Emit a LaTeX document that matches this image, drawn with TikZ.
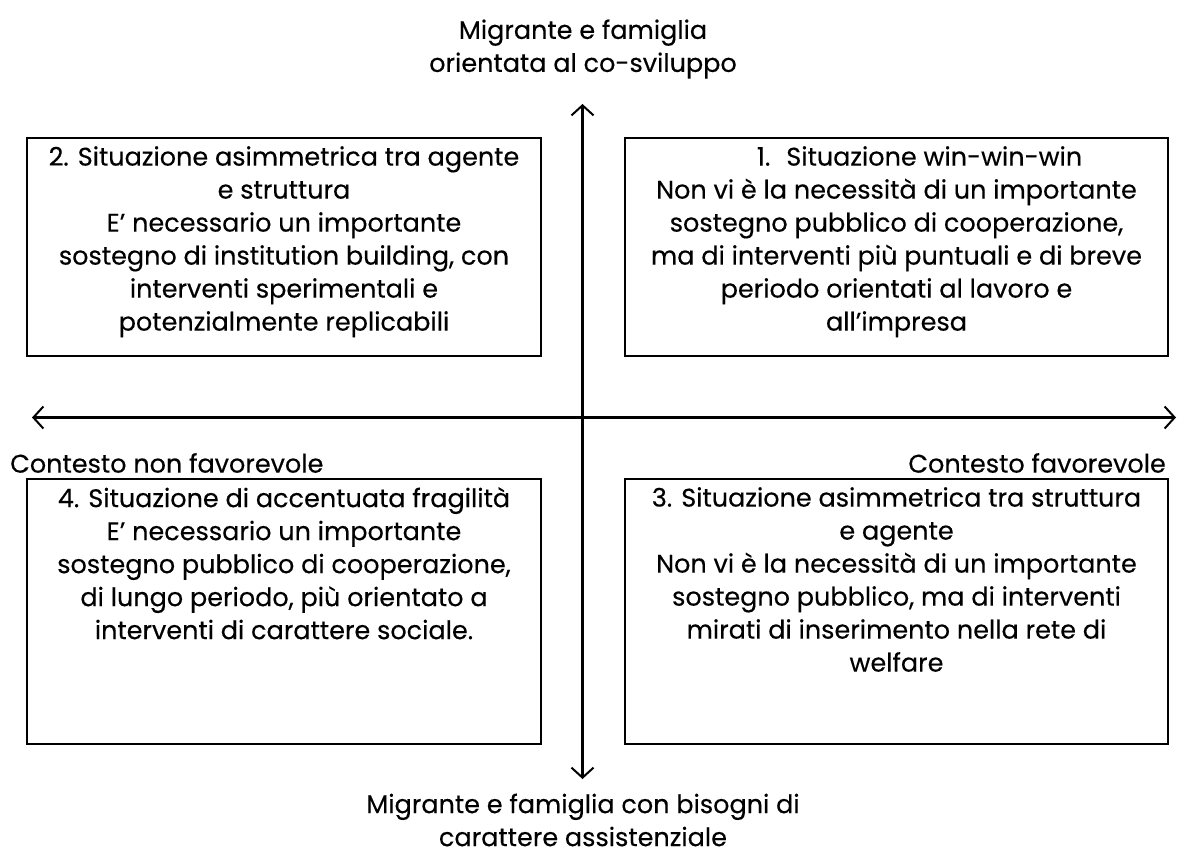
\documentclass[tikz,border=0pt]{standalone}
\usepackage{fontspec}
\setmainfont{Poppins}[FakeBold=0.3]
\usetikzlibrary{arrows.meta}
\begin{document}
\begin{tikzpicture}[x=1pt,y=-1pt,
  quad/.style={draw=black,line width=2pt,rectangle,inner sep=0pt,anchor=north west},
  txt/.style={align=center,anchor=north,inner sep=0pt,font=\fontsize{25.5}{33}\selectfont},
  lbl/.style={align=center,inner sep=0pt,font=\fontsize{25.5}{33}\selectfont},
  axis/.style={line width=2.5pt,{Straight Barb[length=10pt,width=22pt,line width=2pt]}-{Straight Barb[length=10pt,width=22pt,line width=2pt]}}]
\useasboundingbox (0,0) rectangle (1178,855);
% boxes
\node[quad,minimum width=514pt,minimum height=218pt] (b2) at (26,137) {};
\node[quad,minimum width=543pt,minimum height=218pt] (b1) at (624,137) {};
\node[quad,minimum width=514pt,minimum height=265pt] (b4) at (26,478) {};
\node[quad,minimum width=543pt,minimum height=265pt] (b3) at (624,478) {};
% texts
\node[txt] (t2) at ([yshift=-9pt]b2.north) {2. Situazione asimmetrica tra agente\\ e struttura\\ E’ necessario un importante\\ sostegno di institution building, con\\ interventi sperimentali e\\ potenzialmente replicabili};
\node[txt] (t1) at ([yshift=-9pt]b1.north) {\hspace*{46pt}1.\hspace{16pt}Situazione win-win-win\\ Non vi è la necessità di un importante\\ sostegno pubblico di cooperazione,\\ ma di interventi più puntuali e di breve\\ periodo orientati al lavoro e\\ all’impresa};
\node[txt] (t4) at ([yshift=-9pt]b4.north) {4. Situazione di accentuata fragilità\\ E’ necessario un importante\\ sostegno pubblico di cooperazione,\\ di lungo periodo, più orientato a\\ interventi di carattere sociale.};
\node[txt] (t3) at ([yshift=-9pt]b3.north) {3. Situazione asimmetrica tra struttura\\ e agente\\ Non vi è la necessità di un importante\\ sostegno pubblico, ma di interventi\\ mirati di inserimento nella rete di\\ welfare};
% axes
\coordinate (top) at (582.5,104);
\coordinate (bot) at (582.5,779);
\coordinate (lft) at (32,417.5);
\coordinate (rgt) at (1176,417.5);
\draw[axis] (bot) -- (top);
\draw[axis] (lft) -- (rgt);
% labels
\node[lbl] (ltop) at (583,49) {Migrante e famiglia\\ orientata al co-sviluppo};
\node[lbl] (lbot) at (583,820) {Migrante e famiglia con bisogni di\\ carattere assistenziale};
\node[lbl,anchor=west] (lleft) at (10,463) {Contesto non favorevole};
\node[lbl,anchor=east] (lright) at (1166,463) {Contesto favorevole};
\end{tikzpicture}
\end{document}
